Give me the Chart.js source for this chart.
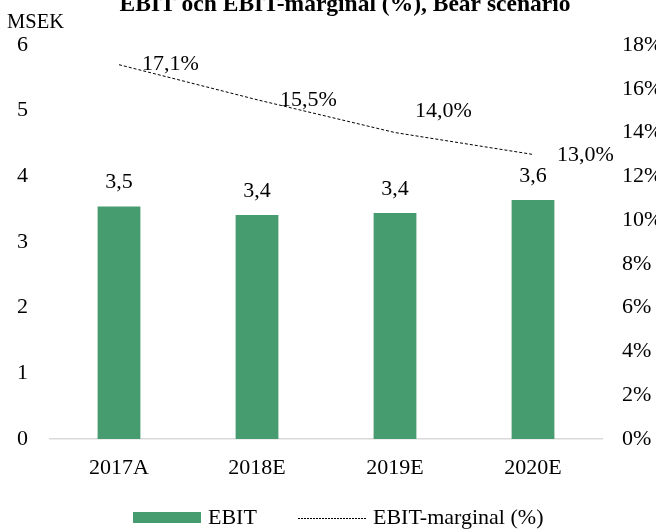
<!DOCTYPE html>
<html>
<head>
<meta charset="utf-8">
<script src="https://cdn.jsdelivr.net/npm/chart.js@4.4.0/dist/chart.umd.min.js"></script>
<style>
  html, body { margin: 0; padding: 0; background: #fff; overflow: hidden; }
  #wrap { position: absolute; left: 0; top: 0; width: 670px; height: 529px; }
</style>
</head>
<body>
<div id="wrap"><canvas id="c"></canvas></div>
<script>
// data
const years = ['2017A', '2018E', '2019E', '2020E'];
const ebit = [3.54, 3.41, 3.44, 3.64];        // MSEK
const marginal = [0.171, 0.155, 0.140, 0.130]; // EBIT-marginal

const FONT = '"Liberation Serif", "Times New Roman", serif';
const green = '#469c6e';

function fmt(v, d) { return v.toFixed(d).replace('.', ','); }

// värden, titel och legend ritas för hand
const extras = {
  id: 'extras',
  afterDatasetsDraw(chart) {
    const ctx = chart.ctx;
    ctx.save();
    ctx.fillStyle = '#000';
    ctx.font = '22px ' + FONT;

    // etiketter på staplarna
    const barMeta = chart.getDatasetMeta(0);
    ctx.textAlign = 'center';
    ctx.textBaseline = 'middle';
    barMeta.data.forEach((b, i) => {
      ctx.fillText(fmt(ebit[i], 1), b.x, b.y - 24);
    });

    // etiketter på linjen
    const lineMeta = chart.getDatasetMeta(1);
    const offs = [[23, 0], [23, 0], [20, -21], [24, 1]];
    ctx.textAlign = 'left';
    lineMeta.data.forEach((p, i) => {
      ctx.fillText(fmt(marginal[i] * 100, 1) + '%', p.x + offs[i][0], p.y + offs[i][1]);
    });

    // titel
    ctx.font = 'bold 23.5px ' + FONT;
    ctx.textAlign = 'center';
    ctx.textBaseline = 'alphabetic';
    ctx.fillText('EBIT och EBIT-marginal (%), Bear scenario', 345, 11);

    ctx.font = '20.5px ' + FONT;
    ctx.textAlign = 'left';
    ctx.fillText('MSEK', 7, 28);

    // legend
    ctx.fillStyle = green;
    ctx.fillRect(133, 512, 68, 11);
    ctx.fillStyle = '#000';
    ctx.font = '22px ' + FONT;
    ctx.textBaseline = 'middle';
    ctx.fillText('EBIT', 208, 518);
    ctx.strokeStyle = '#000';
    ctx.lineWidth = 1;
    ctx.setLineDash([2, 1]);
    ctx.beginPath();
    ctx.moveTo(298, 518.5);
    ctx.lineTo(366, 518.5);
    ctx.stroke();
    ctx.setLineDash([]);
    ctx.fillText('EBIT-marginal (%)', 373, 518);
    ctx.restore();
  }
};

new Chart(document.getElementById('c'), {
  data: {
    labels: years,
    datasets: [
      {
        type: 'bar',
        label: 'EBIT',
        data: ebit,
        backgroundColor: green,
        categoryPercentage: 1,
        barPercentage: 0.31,
        yAxisID: 'y',
        order: 2
      },
      {
        type: 'line',
        label: 'EBIT-marginal (%)',
        data: marginal,
        borderColor: '#000',
        borderWidth: 1,
        borderDash: [3, 2],
        pointRadius: 0,
        fill: false,
        yAxisID: 'y1',
        order: 1
      }
    ]
  },
  plugins: [extras],
  options: {
    responsive: true,
    maintainAspectRatio: false,
    animation: false,
    layout: { padding: { top: 45, left: 0, right: 0, bottom: 0 } },
    plugins: {
      legend: { display: false },
      tooltip: { enabled: false }
    },
    scales: {
      x: {
        grid: { display: false },
        border: { display: true, color: '#d9d9d9', width: 1.5 },
        ticks: { color: '#000', font: { family: FONT, size: 22 }, padding: 8 },
        afterFit: s => { s.height = 90; }
      },
      y: {
        position: 'left',
        min: 0, max: 6,
        grid: { display: false },
        border: { display: false },
        ticks: { stepSize: 1, color: '#000', font: { family: FONT, size: 22 }, padding: 14 },
        afterFit: s => { s.width = 50; }
      },
      y1: {
        position: 'right',
        min: 0, max: 0.18,
        grid: { display: false },
        border: { display: false },
        ticks: {
          stepSize: 0.02,
          color: '#000',
          font: { family: FONT, size: 22 },
          padding: 12,
          callback: v => Math.round(v * 100) + '%'
        },
        afterFit: s => { s.width = 68; }
      }
    }
  }
});
</script>
</body>
</html>
